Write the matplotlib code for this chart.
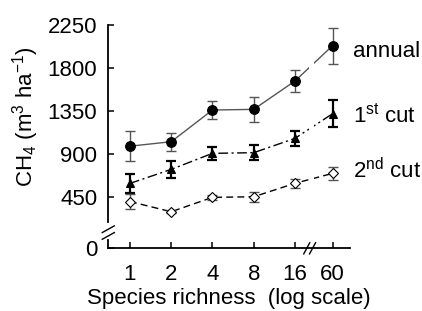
import numpy as np
import matplotlib
matplotlib.use("Agg")
import matplotlib.pyplot as plt

plt.rcParams['font.family'] = ['Liberation Sans', 'DejaVu Sans']
plt.rcParams['mathtext.fontset'] = 'custom'
plt.rcParams['mathtext.rm'] = 'Liberation Sans'
plt.rcParams['mathtext.it'] = 'Liberation Sans'
plt.rcParams['axes.unicode_minus'] = False

# species richness levels (x axis is categorical, broken between 16 and 60)
richness = ['1', '2', '4', '8', '16', '60']

annual = [980, 1027, 1359, 1366, 1663, 2033]
annual_err = [155, 95, 98, 130, 117, 190]

cut1 = [590, 737, 905, 912, 1062, 1320]
cut1_err = [100, 88, 65, 80, 75, 140]

cut2 = [400, 293, 444, 450, 591, 695]
cut2_err = [80, 15, 25, 50, 45, 65]

yticks = [450, 900, 1350, 1800, 2250]

# layout helpers
xpos = np.array([0, 1, 2, 3, 4, 4.91])
xbreak = 4.40
y0 = -90          # where the "0" sits on the broken axis
ybreak = 110
FS = 16

fig = plt.figure(figsize=(4.22, 3.11), dpi=100)
ax = fig.add_axes([0.2566, 0.2016, 0.829 - 0.2566, 0.9196 - 0.2016])

series = [
    (annual, annual_err, 'o', 'black', '-', '#555555', '#555555', 1.0, 7),
    (cut1, cut1_err, '^', 'black', (0, (7, 2.5, 1.5, 2.5)), 'black', 'black', 1.6, 6),
    (cut2, cut2_err, 'D', 'white', (0, (5, 3)), 'black', '#555555', 1.0, 5),
]
for vals, errs, mk, fc, ls, lc, ec, elw, ms in series:
    ax.errorbar(xpos, vals, yerr=errs, fmt='none', ecolor=ec, elinewidth=elw,
                capsize=3.5, capthick=elw, zorder=3)
    ax.plot(xpos, vals, linestyle=ls, color=lc, lw=1.0, zorder=2)
    ax.plot(xpos, vals, linestyle='none', marker=mk, mfc=fc, mec='black',
            mew=0.8, ms=ms, zorder=4)

# gap in the lines at the x break
ax.axvspan(xbreak - 0.07, xbreak + 0.07, color='white', zorder=2.2, lw=0)

ax.set_xlim(-0.525, 5.33)
ax.set_ylim(y0, 2250)
ax.set_xticks(xpos)
ax.set_xticklabels(richness)
ax.set_yticks([y0] + yticks)
ax.set_yticklabels(['0'] + [str(v) for v in yticks])

for s in ['top', 'right']:
    ax.spines[s].set_visible(False)
for s in ['left', 'bottom']:
    ax.spines[s].set_linewidth(1.3)

ax.tick_params(direction='in', length=4, width=1.1, labelsize=FS)
ax.tick_params(axis='x', pad=11)
ax.tick_params(axis='y', pad=8)

ax.set_xlabel('Species richness  (log scale)', fontsize=FS)
ax.xaxis.set_label_coords(0.5, -0.18)
ax.set_ylabel('CH$_4$ (m$^3$ ha$^{-1}$)', fontsize=FS)
ax.yaxis.set_label_coords(-0.28, 0.59)

# break marks on the axes
tr = ax.transAxes
bx = (xbreak + 0.525) / (5.33 + 0.525)
by = (ybreak - y0) / (2250 - y0)
ax.plot([0, 0], [by - 0.035, by + 0.02], transform=tr, color='white', lw=3, clip_on=False, zorder=5)
for d in (-0.015, 0.015):
    ax.plot([-0.025, 0.025], [by - 0.03 + d, by + 0.0 + d], transform=tr,
            color='black', lw=1.0, clip_on=False, zorder=6)
for d in (-0.012, 0.012):
    ax.plot([bx - 0.02 + d, bx + 0.005 + d], [-0.025, 0.025], transform=tr,
            color='black', lw=1.0, clip_on=False, zorder=6)

# series labels
lx = 5.33 + 0.08
ax.text(lx, 1918, 'annual', fontsize=FS, va='baseline', clip_on=False)
ax.text(lx, 1226, '1$^{\\mathrm{st}}$ cut', fontsize=FS, va='baseline', clip_on=False)
ax.text(lx, 646, '2$^{\\mathrm{nd}}$ cut', fontsize=FS, va='baseline', clip_on=False)

fig.savefig('out.png', dpi=100)
